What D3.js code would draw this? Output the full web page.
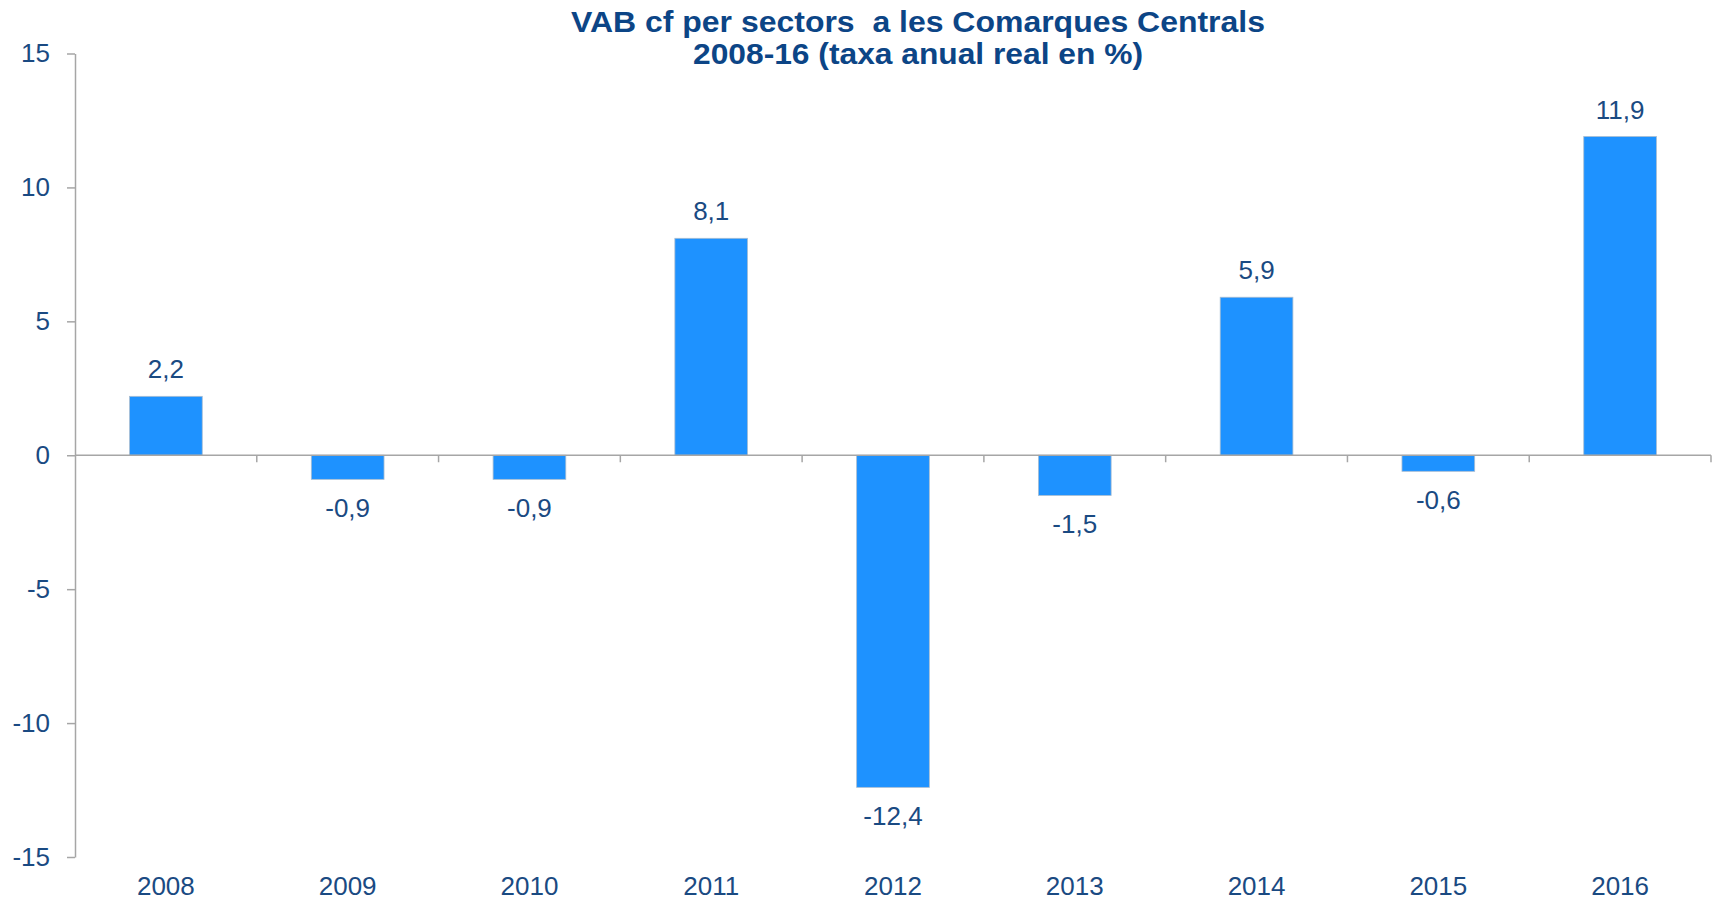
<!DOCTYPE html>
<html>
<head>
<meta charset="utf-8">
<script src="https://cdn.jsdelivr.net/npm/d3@7"></script>
<style>
  html, body { margin: 0; padding: 0; background: #ffffff; }
  svg { display: block; }
</style>
</head>
<body>
<svg id="chart" width="1713" height="902"></svg>
<script>
// Annual real growth of gross value added (VAB cf), Comarques Centrals
const years = ["2008", "2009", "2010", "2011", "2012", "2013", "2014", "2015", "2016"];
const growth = [2.2, -0.9, -0.9, 8.1, -12.4, -1.5, 5.9, -0.6, 11.9];
const yTicks = [15, 10, 5, 0, -5, -10, -15];
const titleLines = ["VAB cf per sectors  a les Comarques Centrals", "2008-16 (taxa anual real en %)"];

const W = 1713, H = 902;
const margin = { left: 75, right: 2, top: 53.5, bottom: 45 };

const svg = d3.select("#chart");
const fontFamily = "'Liberation Sans', Arial, sans-serif";
const labelColor = "#1a4a82";
const axisColor = "#a6a6a6";

const x = d3.scaleBand()
  .domain(years)
  .range([margin.left, W - margin.right])
  .paddingInner(0.6)
  .paddingOuter(0.3);

const y = d3.scaleLinear()
  .domain([-15, 15])
  .range([857, 53.5]);

// Bars
svg.append("g")
  .selectAll("rect")
  .data(years.map((yr, i) => ({ yr, v: growth[i] })))
  .join("rect")
  .attr("x", d => x(d.yr))
  .attr("width", x.bandwidth())
  .attr("y", d => y(Math.max(0, d.v)))
  .attr("height", d => Math.abs(y(d.v) - y(0)))
  .attr("fill", "#1e92ff")
  .attr("stroke", "#a9bdd1")
  .attr("stroke-width", 0.8);

// Vertical axis
const yAxis = svg.append("g")
  .attr("transform", `translate(${margin.left},0)`)
  .call(d3.axisLeft(y).tickValues(yTicks).tickSize(8).tickSizeOuter(0).tickPadding(17)
    .tickFormat(d => String(d)));
yAxis.select(".domain").attr("stroke", axisColor).attr("stroke-width", 1.5);
yAxis.selectAll(".tick line").attr("stroke", axisColor).attr("stroke-width", 1.5);
yAxis.selectAll(".tick text")
  .attr("fill", labelColor)
  .style("font-family", fontFamily)
  .style("font-size", "26px");

// Zero line with category separators
const zeroY = y(0);
const xAxis = svg.append("g")
  .attr("transform", `translate(0,${zeroY})`);
xAxis.append("line")
  .attr("x1", margin.left).attr("x2", W - margin.right)
  .attr("y1", 0).attr("y2", 0)
  .attr("stroke", axisColor).attr("stroke-width", 1.5);
const bounds = d3.range(1, years.length + 1).map(i => margin.left + i * (W - margin.right - margin.left) / years.length);
xAxis.selectAll("line.sep")
  .data(bounds)
  .join("line")
  .attr("class", "sep")
  .attr("x1", d => d).attr("x2", d => d)
  .attr("y1", 0).attr("y2", 7)
  .attr("stroke", axisColor).attr("stroke-width", 1.5);

// Year labels along the bottom
svg.append("g")
  .selectAll("text")
  .data(years)
  .join("text")
  .attr("x", d => x(d) + x.bandwidth() / 2)
  .attr("y", 895)
  .attr("text-anchor", "middle")
  .attr("fill", labelColor)
  .style("font-family", fontFamily)
  .style("font-size", "26px")
  .text(d => d);

// Value labels
const fmt = v => v.toFixed(1).replace(".", ",");
svg.append("g")
  .selectAll("text")
  .data(years.map((yr, i) => ({ yr, v: growth[i] })))
  .join("text")
  .attr("x", d => x(d.yr) + x.bandwidth() / 2)
  .attr("y", d => d.v >= 0 ? y(d.v) - 18 : y(d.v) + 38)
  .attr("text-anchor", "middle")
  .attr("fill", labelColor)
  .style("font-family", fontFamily)
  .style("font-size", "26px")
  .text(d => fmt(d.v));

// Title
const titleWidths = [694, 450];
const title = svg.append("g");
titleLines.forEach((line, i) => {
  title.append("text")
    .attr("x", 918)
    .attr("y", 32 + i * 32)
    .attr("text-anchor", "middle")
    .attr("fill", "#0c4586")
    .attr("textLength", titleWidths[i])
    .attr("lengthAdjust", "spacingAndGlyphs")
    .style("font-family", "'Liberation Sans Narrow', 'Arial Narrow', " + fontFamily)
    .style("font-weight", "bold")
    .style("font-size", "29px")
    .style("white-space", "pre")
    .text(line);
});
</script>
</body>
</html>
